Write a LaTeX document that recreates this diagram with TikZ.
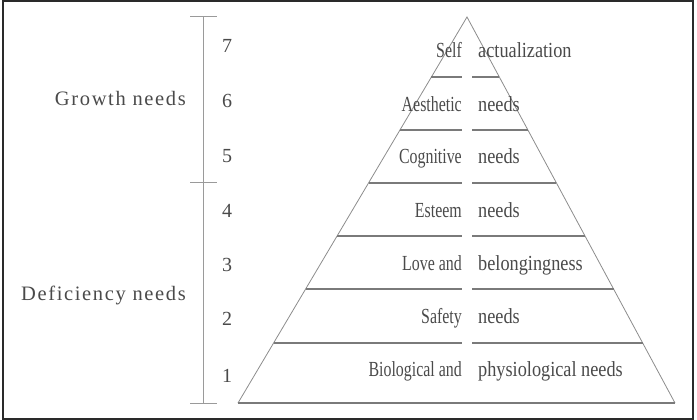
\documentclass[tikz,border=0pt]{standalone}
\usepackage{fontspec}
\setmainfont{Liberation Serif}
\newfontfamily\condf[FakeStretch=0.74]{Liberation Serif}
\newfontfamily\condr[FakeStretch=0.85]{Liberation Serif}
\newfontfamily\spacedf[LetterSpace=8]{Liberation Serif}
\usetikzlibrary{calc}
\definecolor{txt}{HTML}{4A4A4A}
\definecolor{divc}{HTML}{7A7A7A}
\definecolor{sidec}{HTML}{8C8C8C}
\definecolor{barc}{HTML}{9A9A9A}
\definecolor{framec}{HTML}{2A2A2A}
\tikzset{
  frame/.style={draw=framec, line width=2pt},
  side/.style={draw=sidec, line width=0.8pt},
  divider/.style={draw=divc, line width=1.6pt},
  bar/.style={draw=barc, line width=1pt},
  lefttxt/.style={anchor=base east, inner sep=0pt, text=txt, font=\condf\fontsize{21.5}{23}\selectfont},
  righttxt/.style={anchor=base west, inner sep=0pt, text=txt, font=\condr\fontsize{21.5}{23}\selectfont},
  numtxt/.style={anchor=base, inner sep=0pt, text=txt, font=\fontsize{20}{22}\selectfont},
  grptxt/.style={anchor=base east, inner sep=0pt, text=txt, font=\spacedf\fontsize{20.5}{22}\selectfont}
}
\begin{document}
\begin{tikzpicture}[x=1pt,y=-1pt]
\useasboundingbox (0,0) rectangle (697,420);
\draw[frame] (2.5,1.5) rectangle (692.5,418.5);

% pyramid
\coordinate (apex) at (467,17);
\coordinate (bl) at (238,403);
\coordinate (br) at (675,403);
\draw[side] (bl) -- (apex) -- (br);
\draw[divider] (bl) -- (br);

\foreach \t [count=\i] in {0.1554,0.2927,0.4301,0.5674,0.7047,0.8446}{
  \coordinate (L\i) at ($(apex)!\t!(bl)$);
  \coordinate (R\i) at ($(apex)!\t!(br)$);
  \coordinate (ML\i) at (462,0 |- L\i);
  \coordinate (MR\i) at (472,0 |- R\i);
  \draw[divider] (L\i) -- (ML\i);
  \draw[divider] (MR\i) -- (R\i);
}

% level labels
\node[lefttxt]  (l7) at (462,58)  {Self};
\node[righttxt] (r7) at (478,58)  {actualization};
\node[lefttxt]  (l6) at (462,111) {Aesthetic};
\node[righttxt] (r6) at (478,111) {needs};
\node[lefttxt]  (l5) at (462,164) {Cognitive};
\node[righttxt] (r5) at (478,164) {needs};
\node[lefttxt]  (l4) at (462,217) {Esteem};
\node[righttxt] (r4) at (478,217) {needs};
\node[lefttxt]  (l3) at (462,270) {Love and};
\node[righttxt] (r3) at (478,270) {belongingness};
\node[lefttxt]  (l2) at (462,323) {Safety};
\node[righttxt] (r2) at (478,323) {needs};
\node[lefttxt]  (l1) at (462,376) {Biological and};
\node[righttxt] (r1) at (478,376) {physiological needs};

% scale bar
\coordinate (st) at (203,17);
\coordinate (sm) at (203,182);
\coordinate (sb) at (203,403);
\coordinate (stl) at (190,17);  \coordinate (str) at (217,17);
\coordinate (sml) at (190,182); \coordinate (smr) at (217,182);
\coordinate (sbl) at (190,403); \coordinate (sbr) at (217,403);
\draw[bar] (st) -- (sb);
\draw[bar] (stl) -- (str);
\draw[bar] (sml) -- (smr);
\draw[bar] (sbl) -- (sbr);

% numbers
\node[numtxt] (n7) at (227,53)  {7};
\node[numtxt] (n6) at (227,107) {6};
\node[numtxt] (n5) at (227,162) {5};
\node[numtxt] (n4) at (227,217) {4};
\node[numtxt] (n3) at (227,271) {3};
\node[numtxt] (n2) at (227,325) {2};
\node[numtxt] (n1) at (227,382) {1};

% group labels
\node[grptxt] (growth) at (186,106) {Growth needs};
\node[grptxt] (defic) at (186,300) {Deficiency needs};
\end{tikzpicture}
\end{document}
